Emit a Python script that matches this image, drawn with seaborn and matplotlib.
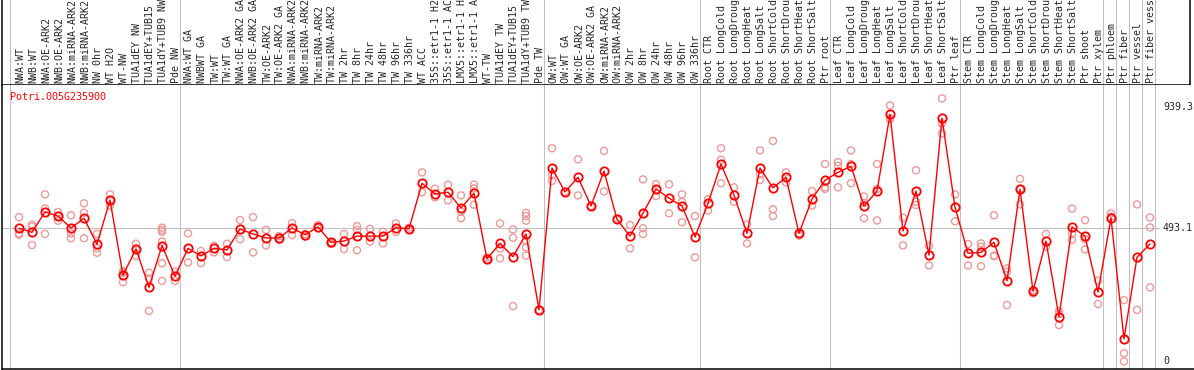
import numpy as np
import pandas as pd
import matplotlib
matplotlib.use("Agg")
import matplotlib.pyplot as plt
import seaborn as sns

# ---------------- data ----------------
gene = "Potri.005G235900"

samples = [
    "NWA:WT", "NWB:WT", "NWA:OE-ARK2", "NWB:OE-ARK2", "NWA:miRNA-ARK2", "NWB:miRNA-ARK2",
    "NW 0hr", "WT H2O", "WT-NW", "TUA1dEY NW", "TUA1dEY+TUB15 NW", "TUA1dY+TUB9 NW", "Pde NW",
    "NWA:WT GA", "NWBWT GA", "TW:WT", "TW:WT GA", "NWA:OE-ARK2 GA", "NWB:OE-ARK2 GA",
    "TW:OE-ARK2", "TW:OE-ARK2 GA", "NWA:miRNA-ARK2 GA", "NWB:miRNA-ARK2 GA", "TW:miRNA-ARK2",
    "TW:miRNA-ARK2 GA", "TW 2hr", "TW 8hr", "TW 24hr", "TW 48hr", "TW 96hr", "TW 336hr",
    "WT ACC", "35S::etr1-1 H2O", "35S::etr1-1 ACC", "LMX5::etr1-1 H2O", "LMX5::etr1-1 ACC",
    "WT-TW", "TUA1dEY TW", "TUA1dEY+TUB15 TW", "TUA1dY+TUB9 TW", "Pde TW",
    "OW:WT", "OW:WT GA", "OW:OE-ARK2", "OW:OE-ARK2 GA", "OW:miRNA-ARK2", "OW:miRNA-ARK2 GA",
    "OW 2hr", "OW 8hr", "OW 24hr", "OW 48hr", "OW 96hr", "OW 336hr",
    "Root CTR", "Root LongCold", "Root LongDrought", "Root LongHeat", "Root LongSalt",
    "Root ShortCold", "Root ShortDrought", "Root ShortHeat", "Root ShortSalt", "Ptr root",
    "Leaf CTR", "Leaf LongCold", "Leaf LongDrought", "Leaf LongHeat", "Leaf LongSalt",
    "Leaf ShortCold", "Leaf ShortDrought", "Leaf ShortHeat", "Leaf ShortSalt", "Ptr leaf",
    "Stem CTR", "Stem LongCold", "Stem LongDrought", "Stem LongHeat", "Stem LongSalt",
    "Stem ShortCold", "Stem ShortDrought", "Stem ShortHeat", "Stem ShortSalt",
    "Ptr shoot", "Ptr xylem", "Ptr phloem", "Ptr fiber", "Ptr vessel", "Ptr fiber vessel",
]

means = [
    491, 476, 551, 536, 492, 528, 432, 595, 318, 415, 273, 427, 314,
    417, 389, 417, 411, 488, 470, 455, 455, 492, 467, 496, 439, 444, 462, 462, 462,
    493, 489, 657, 617, 624, 566, 620, 378, 436, 386, 470, 190,
    713, 625, 679, 573, 702, 524, 462, 546, 636, 602, 573, 459,
    583, 728, 613, 472, 713, 640, 679, 472, 599, 668,
    697, 720, 573, 628, 911, 481, 628, 392, 897, 569,
    399, 402, 439, 297, 635, 259, 444, 164, 496, 461, 256, 529, 83, 384, 433,
]

replicates = [
    [532, 472, 467], [504, 497, 429], [616, 564, 470], [551, 536, 519], [539, 472, 454],
    [583, 548, 454], [470, 417, 401], [616, 595, 574], [333, 327, 292], [434, 415, 389],
    [327, 306, 186], [493, 485, 478, 442, 362, 297], [331, 297],
    [472, 365], [407, 363], [426, 402], [434, 385], [521, 451], [532, 402], [485, 428],
    [462, 448], [510, 466], [470, 460], [503, 491], [439, 433], [470, 414], [499, 485, 410],
    [489, 442], [478, 435], [509, 477], [493, 485], [697, 624], [637, 605], [651, 594],
    [612, 552, 528], [652, 638, 578], [383, 374], [509, 416, 380], [487, 456, 204],
    [548, 536, 519, 445, 421, 390], [190],
    [786, 687, 666], [625], [745, 612], [573], [776, 627], [524], [503, 417],
    [671, 491, 470], [654, 610], [653, 546], [616, 588, 513], [536, 384],
    [598, 556], [786, 743, 657], [642, 589], [505, 435], [778, 691, 669], [813, 561, 536],
    [697, 660], [470, 464], [628, 574], [728, 642, 636],
    [735, 721, 642], [778, 728, 657], [608, 585, 528], [728, 636, 520], [944, 896, 893],
    [530, 428], [705, 589, 577], [426, 354], [970, 878, 841], [616, 517],
    [433, 354], [435, 423, 351], [539, 390, 388], [343, 331, 208], [673, 637, 579],
    [263, 251], [470, 423], [185, 175, 134], [564, 470, 448], [521, 451, 413],
    [298, 212], [546, 534], [226, 30, 0], [579, 190], [531, 494, 273],
]

group_ends = [12, 40, 52, 62, 72, 83, 84, 85, 86, 87]
ytick_values = [939.3, 493.1, 0]
ytick_labels = ["939.3", "493.1", "0"]
ref_value = 493.1

# ---------------- frames ----------------
mean_df = pd.DataFrame({"idx": np.arange(len(samples)), "sample": samples, "mean": means})
rep_df = pd.DataFrame(
    [(i, v) for i, reps in enumerate(replicates) for v in reps], columns=["idx", "value"]
)

# ---------------- style ----------------
sns.set_style("white")
plt.rcParams["font.family"] = ["DejaVu Sans Mono", "DejaVu Sans"]
FS = 7.2
GREY = "#c0c0c0"
PINK = "#ee9999"

W, H = 1194, 370
fig = plt.figure(figsize=(W / 100, H / 100), dpi=100)

def px_x(px):
    return (px - 19) / 13.0

def px_v(py):
    return (361.4 - py) * 3.688

HEAD = 85
BOT = 368.5
LEFT = 1.5

# header axes
hax = fig.add_axes([LEFT / W, (H - HEAD) / H, (1190 - LEFT) / W, HEAD / H])
hax.set_xlim(px_x(LEFT), px_x(1190))
hax.set_ylim(0, 1)
hax.set_xticks([]); hax.set_yticks([])
for s in ["left", "right", "bottom"]:
    hax.spines[s].set_color("black"); hax.spines[s].set_linewidth(1.1)
hax.spines["top"].set_visible(False)

# main axes
ax = fig.add_axes([LEFT / W, (H - BOT) / H, (W - LEFT) / W, (BOT - HEAD) / H])
ax.set_xlim(px_x(LEFT), px_x(W))
ax.set_ylim(px_v(BOT), px_v(HEAD))
ax.set_xticks([]); ax.set_yticks([])
for s in ["left", "bottom"]:
    ax.spines[s].set_color("black"); ax.spines[s].set_linewidth(1.1)
for s in ["top", "right"]:
    ax.spines[s].set_visible(False)

# separators
seps = [px_x(10)] + [e + 0.42 for e in group_ends]
for xs in seps:
    ax.axvline(xs, color=GREY, lw=0.8, zorder=1)
    hax.axvline(xs, color=GREY, lw=0.8, zorder=1)
ax.hlines(ref_value, px_x(LEFT), px_x(1160), color=GREY, lw=0.8, zorder=1)

# replicates
sns.scatterplot(data=rep_df, x="idx", y="value", ax=ax, s=26, marker="o",
                facecolor="none", edgecolor=PINK, linewidth=1.0, zorder=2, legend=False)
# means
sns.lineplot(data=mean_df, x="idx", y="mean", ax=ax, color="red", lw=1.0, marker="o",
             markersize=6, markerfacecolor="none", markeredgecolor="red",
             markeredgewidth=1.3, errorbar=None, zorder=3, legend=False)
ax.set_xlabel(""); ax.set_ylabel("")

# right value labels
for v, lab in zip(ytick_values, ytick_labels):
    ax.text(px_x(1163), v, lab, ha="left", va="center", fontsize=FS, clip_on=False)

# gene title
ax.text((10 - LEFT) / (W - LEFT), 1 - (97 - HEAD) / (BOT - HEAD), gene,
        transform=ax.transAxes, color="red", fontsize=FS, ha="left", va="center")

# header sample labels
for i, s in enumerate(samples):
    hax.text(i + 0.1, (HEAD - 83) / HEAD, s, rotation=90, ha="center", va="bottom",
             fontsize=FS, clip_on=True)

fig.savefig("out.png", dpi=100)
